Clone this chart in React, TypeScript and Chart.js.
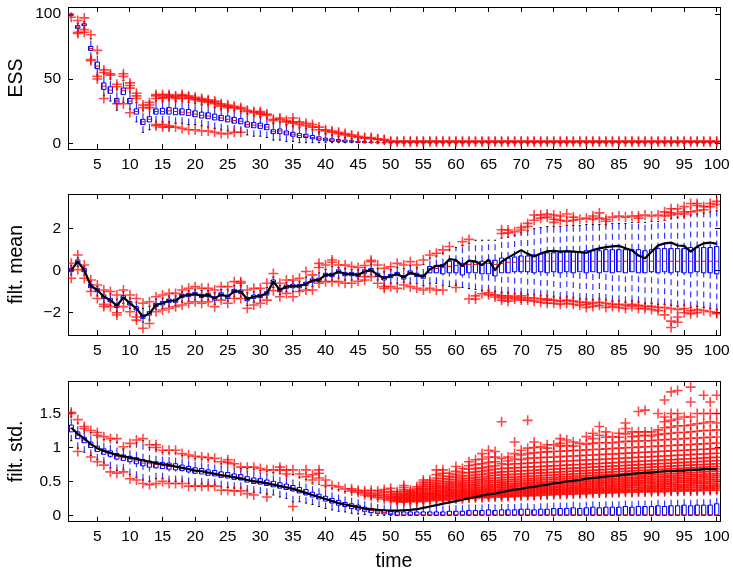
import { useEffect, useRef } from 'react';
import { Chart, registerables } from 'chart.js';

Chart.register(...registerables);

// time steps 1..100
const TIME: number[] = Array.from({ length: 100 }, (_, i) => i + 1);
const TIME_TICKS = [5, 10, 15, 20, 25, 30, 35, 40, 45, 50, 55, 60, 65, 70, 75, 80, 85, 90, 95, 100];
const TIME_TICK_LABELS = TIME_TICKS.map(String);

// ---------- ESS ----------
const ESS_TICKS = [0, 50, 100];
const ESS_TICK_LABELS = ['0', '50', '100'];
const ESS_Q1 = [
  99, 89, 91, 72, 58, 42, 39, 31, 38, 31,
  23, 15, 17, 23, 23, 23, 22.5, 22.5, 22, 21,
  20, 19.5, 18.5, 18, 17, 16, 15.5, 13, 12.5, 12,
  11, 8, 8, 7, 6, 5, 5, 4, 3, 2.5,
  2, 2, 1.5, 1.5, 1.2, 1, 1, 1, 1, 1,
  1, 1, 1, 1, 1, 1, 1, 1, 1, 1,
  1, 1, 1, 1, 1, 1, 1, 1, 1, 1,
  1, 1, 1, 1, 1, 1, 1, 1, 1, 1,
  1, 1, 1, 1, 1, 1, 1, 1, 1, 1,
  1, 1, 1, 1, 1, 1, 1, 1, 1, 1,
];
const ESS_MED = [
  99.5, 90, 91.5, 73.5, 60, 44.5, 41.5, 33, 41, 33,
  25, 17, 19, 25, 25, 25.5, 25, 24.5, 24, 23,
  22, 21.5, 20.5, 20, 19, 18, 17.5, 15, 14.5, 14,
  13, 9.5, 10, 8.5, 7.5, 6.5, 6, 5, 4, 3.5,
  3, 2.5, 2, 2, 1.5, 1.3, 1.2, 1.1, 1, 1,
  1, 1, 1, 1, 1, 1, 1, 1, 1, 1,
  1, 1, 1, 1, 1, 1, 1, 1, 1, 1,
  1, 1, 1, 1, 1, 1, 1, 1, 1, 1,
  1, 1, 1, 1, 1, 1, 1, 1, 1, 1,
  1, 1, 1, 1, 1, 1, 1, 1, 1, 1,
];
const ESS_Q3 = [
  100, 91, 92.5, 75, 63, 47, 44, 35, 43, 35,
  27, 19, 21, 27, 27.5, 28, 27.5, 27, 26.5, 25.5,
  24.5, 24, 23, 22, 21.5, 20.5, 19.5, 17, 16.5, 16,
  15, 11, 11.5, 10, 9, 8, 7.5, 6.5, 5.5, 4.5,
  4, 3.5, 3, 2.5, 2, 1.8, 1.5, 1.3, 1.2, 1,
  1, 1, 1, 1, 1, 1, 1, 1, 1, 1,
  1, 1, 1, 1, 1, 1, 1, 1, 1, 1,
  1, 1, 1, 1, 1, 1, 1, 1, 1, 1,
  1, 1, 1, 1, 1, 1, 1, 1, 1, 1,
  1, 1, 1, 1, 1, 1, 1, 1, 1, 1,
];
const ESS_LO = [
  98.5, 87, 89, 66, 53, 37, 33, 26, 32, 27,
  17, 9, 11, 17, 17, 17, 16, 16, 15, 15,
  14, 13, 12, 11, 10, 10, 9, 7, 6, 6,
  5, 3, 3, 2, 2, 1, 1, 1, 1, 1,
  1, 1, 1, 1, 1, 1, 1, 1, 1, 1,
  1, 1, 1, 1, 1, 1, 1, 1, 1, 1,
  1, 1, 1, 1, 1, 1, 1, 1, 1, 1,
  1, 1, 1, 1, 1, 1, 1, 1, 1, 1,
  1, 1, 1, 1, 1, 1, 1, 1, 1, 1,
  1, 1, 1, 1, 1, 1, 1, 1, 1, 1,
];
const ESS_HI = [
  100, 93, 94, 81, 70, 54, 50, 42, 49, 40,
  32, 26, 27, 33, 33, 34, 33, 33, 32, 31,
  30, 30, 28, 27, 27, 26, 25, 23, 22, 21,
  20, 16, 17, 15, 14, 13, 12, 11, 9, 8,
  7, 6, 5, 4, 3.5, 3, 2.5, 2, 1.8, 1,
  1, 1, 1, 1, 1, 1, 1, 1, 1, 1,
  1, 1, 1, 1, 1, 1, 1, 1, 1, 1,
  1, 1, 1, 1, 1, 1, 1, 1, 1, 1,
  1, 1, 1, 1, 1, 1, 1, 1, 1, 1,
  1, 1, 1, 1, 1, 1, 1, 1, 1, 1,
];
const ESS_OUT: number[][] = [
  [97.5], [85, 86, 95], [86, 88, 97], [64, 65, 84], [50, 52, 72],
  [35, 55, 57], [53, 54], [31, 44, 46], [31, 52, 54], [24, 43, 45, 47],
  [35, 37, 39], [28, 30], [28, 30, 32], [14, 15, 35, 37, 38], [13, 15, 35, 36, 38],
  [13, 14, 36, 37, 38], [13, 35, 36, 37], [12, 35, 37, 38], [11, 35, 36, 37], [11, 34, 35, 36],
  [10, 33, 34, 35], [10, 32, 33, 34], [9, 31, 32, 33], [8, 29, 30, 31], [8, 28, 29, 30],
  [9, 28, 29], [9, 27, 28], [25, 26], [24, 25], [23, 24, 25],
  [22, 23], [18, 19], [19, 20], [17, 18], [16, 17, 20],
  [15, 17], [14, 16], [13, 15], [11, 13], [10, 11],
  [9, 10], [8, 9], [7, 8], [6, 7], [5, 6],
  [4.5, 5], [4, 5], [3.5, 4], [3, 3.5], [1.7, 2.2],
  [1.7, 2.2], [1.7, 2.2], [1.7, 2.2], [1.7, 2.2], [1.7, 2.2],
  [1.7, 2.2], [1.7, 2.2], [1.7, 2.2], [1.7, 2.2], [1.7, 2.2],
  [1.7, 2.2], [1.7, 2.2], [1.7, 2.2], [1.7, 2.2], [1.7, 2.2],
  [1.7, 2.2], [1.7, 2.2], [1.7, 2.2], [1.7, 2.2], [1.7, 2.2],
  [1.7, 2.2], [1.7, 2.2], [1.7, 2.2], [1.7, 2.2], [1.7, 2.2],
  [1.7, 2.2], [1.7, 2.2], [1.7, 2.2], [1.7, 2.2], [1.7, 2.2],
  [1.7, 2.2], [1.7, 2.2], [1.7, 2.2], [1.7, 2.2], [1.7, 2.2],
  [1.7, 2.2], [1.7, 2.2], [1.7, 2.2], [1.7, 2.2], [1.7, 2.2],
  [1.7, 2.2], [1.7, 2.2], [1.7, 2.2], [1.7, 2.2], [1.7, 2.2],
  [1.7, 2.2], [1.7, 2.2], [1.7, 2.2], [1.7, 2.2], [1.7, 2.2],
];

// ---------- filtered mean ----------
const MEAN_TICKS = [-2, 0, 2];
const MEAN_TICK_LABELS = ['\u22122', '0', '2'];
const MEAN_TRUE = [
  0.03, 0.43, 0.03, -0.73, -0.92, -1.24, -1.40, -1.67, -1.27, -1.55,
  -1.79, -2.19, -2.03, -1.63, -1.55, -1.43, -1.43, -1.20, -1.16, -1.11,
  -1.20, -1.16, -1.32, -1.13, -1.24, -0.97, -1.00, -1.35, -1.24, -1.20,
  -1.08, -0.52, -0.92, -0.76, -0.73, -0.73, -0.63, -0.47, -0.44, -0.20,
  -0.20, -0.04, -0.16, -0.16, -0.20, -0.04, 0.03, -0.20, -0.36, -0.25,
  -0.16, -0.32, -0.09, -0.20, -0.28, 0.07, 0.23, 0.23, 0.55, 0.51,
  0.23, 0.48, 0.43, 0.27, 0.51, 0.03, 0.43, 0.62, 0.80, 0.98,
  0.80, 0.68, 0.82, 0.92, 0.94, 0.91, 0.93, 0.91, 0.88, 0.85,
  0.98, 1.06, 1.12, 1.16, 1.18, 1.07, 0.97, 0.72, 0.59, 0.90,
  1.20, 1.30, 1.34, 1.20, 1.18, 0.91, 1.15, 1.30, 1.34, 1.28,
];
const MEAN_Q1 = [
  -0.05, 0.35, -0.05, -0.81, -1.0, -1.32, -1.48, -1.75, -1.35, -1.63,
  -1.87, -2.27, -2.11, -1.71, -1.63, -1.51, -1.51, -1.28, -1.24, -1.19,
  -1.28, -1.24, -1.4, -1.21, -1.32, -1.05, -1.08, -1.43, -1.32, -1.28,
  -1.16, -0.6, -1.0, -0.84, -0.81, -0.81, -0.71, -0.55, -0.52, -0.28,
  -0.28, -0.12, -0.24, -0.24, -0.28, -0.12, -0.05, -0.28, -0.44, -0.33,
  -0.24, -0.4, -0.17, -0.28, -0.36, -0.1, -0.1, -0.15, -0.1, -0.1,
  -0.2, -0.1, -0.1, -0.15, -0.15, -0.25, -0.1, -0.1, -0.05, -0.05,
  -0.05, -0.1, -0.05, -0.1, -0.05, -0.1, -0.05, -0.1, -0.05, -0.1,
  -0.05, -0.1, -0.05, -0.1, -0.05, -0.1, -0.05, -0.1, -0.1, -0.05,
  -0.1, -0.05, -0.1, -0.05, -0.1, -0.1, -0.05, -0.1, -0.1, -0.15,
];
const MEAN_MED = [
  0.03, 0.43, 0.03, -0.73, -0.92, -1.24, -1.40, -1.67, -1.27, -1.55,
  -1.79, -2.19, -2.03, -1.63, -1.55, -1.43, -1.43, -1.20, -1.16, -1.11,
  -1.20, -1.16, -1.32, -1.13, -1.24, -0.97, -1.00, -1.35, -1.24, -1.20,
  -1.08, -0.52, -0.92, -0.76, -0.73, -0.73, -0.63, -0.47, -0.44, -0.20,
  -0.20, -0.04, -0.16, -0.16, -0.20, -0.04, 0.03, -0.20, -0.36, -0.25,
  -0.16, -0.32, -0.09, -0.20, -0.28, 0.05, 0.1, 0.15, 0.2, 0.25,
  0.2, 0.3, 0.3, 0.3, 0.35, 0.3, 0.35, 0.4, 0.4, 0.45,
  0.45, 0.45, 0.45, 0.45, 0.45, 0.45, 0.45, 0.45, 0.45, 0.45,
  0.45, 0.45, 0.45, 0.45, 0.45, 0.45, 0.45, 0.45, 0.45, 0.45,
  0.45, 0.45, 0.45, 0.45, 0.45, 0.45, 0.45, 0.45, 0.45, 0.45,
];
const MEAN_Q3 = [
  0.11, 0.51, 0.11, -0.65, -0.84, -1.16, -1.32, -1.59, -1.19, -1.47,
  -1.71, -2.11, -1.95, -1.55, -1.47, -1.35, -1.35, -1.12, -1.08, -1.03,
  -1.12, -1.08, -1.24, -1.05, -1.16, -0.89, -0.92, -1.27, -1.16, -1.12,
  -1.0, -0.44, -0.84, -0.68, -0.65, -0.65, -0.55, -0.39, -0.36, -0.12,
  -0.12, 0.04, -0.08, -0.08, -0.12, 0.04, 0.11, -0.12, -0.28, -0.17,
  -0.08, -0.24, -0.01, -0.12, -0.2, 0.2, 0.25, 0.3, 0.45, 0.45,
  0.35, 0.45, 0.45, 0.45, 0.5, 0.5, 0.6, 0.6, 0.65, 0.7,
  0.7, 0.75, 0.8, 0.85, 0.85, 0.85, 0.9, 0.9, 0.9, 0.95,
  0.95, 0.95, 1.0, 1.0, 1.0, 1.0, 1.0, 1.0, 0.95, 1.0,
  1.05, 1.05, 1.05, 1.05, 1.05, 1.1, 1.1, 1.1, 1.1, 1.15,
];
const MEAN_LO = [
  -0.2, 0.2, -0.2, -0.95, -1.2, -1.5, -1.65, -1.95, -1.55, -1.8,
  -2.1, -2.45, -2.35, -1.85, -1.8, -1.7, -1.65, -1.5, -1.45, -1.4,
  -1.45, -1.4, -1.6, -1.35, -1.45, -1.25, -1.25, -1.65, -1.5, -1.45,
  -1.3, -0.8, -1.15, -1.0, -1.0, -0.95, -0.85, -0.75, -0.55, -0.45,
  -0.45, -0.35, -0.45, -0.45, -0.4, -0.2, -0.2, -0.45, -0.7, -0.6,
  -0.6, -0.55, -0.6, -0.6, -0.7, -0.6, -0.6, -0.7, -0.75, -0.7,
  -0.8, -0.85, -0.9, -0.95, -0.95, -1.0, -1.05, -1.05, -1.1, -1.1,
  -1.15, -1.15, -1.2, -1.2, -1.25, -1.3, -1.25, -1.3, -1.35, -1.35,
  -1.4, -1.35, -1.4, -1.45, -1.45, -1.5, -1.45, -1.5, -1.55, -1.55,
  -1.6, -1.6, -1.65, -1.7, -1.65, -1.75, -1.7, -1.75, -1.8, -1.85,
];
const MEAN_HI = [
  0.25, 0.62, 0.2, -0.5, -0.75, -1.0, -1.1, -1.35, -1.0, -1.3,
  -1.5, -1.8, -1.7, -1.35, -1.3, -1.2, -1.2, -1.0, -0.95, -0.9,
  -0.95, -0.95, -1.05, -0.9, -0.9, -0.7, -0.7, -1.05, -1.0, -0.95,
  -0.8, -0.3, -0.7, -0.55, -0.5, -0.5, -0.3, -0.3, -0.1, 0.05,
  0.2, 0.15, 0.1, 0.05, 0.05, 0.15, 0.3, 0.1, -0.05, 0.05,
  0.15, 0.1, 0.25, 0.15, 0.3, 0.6, 0.7, 0.85, 1.0, 1.1,
  1.2, 1.3, 1.45, 1.45, 1.45, 1.45, 1.55, 1.6, 1.7, 1.8,
  1.9, 2.0, 2.05, 2.1, 2.1, 2.1, 2.15, 2.15, 2.15, 2.2,
  2.2, 2.2, 2.2, 2.25, 2.25, 2.25, 2.3, 2.3, 2.3, 2.35,
  2.35, 2.4, 2.5, 2.55, 2.6, 2.65, 2.7, 2.75, 2.8, 2.85,
];
const MEAN_OUT: number[][] = [
  [0.35, -0.36], [0.75, 0.05], [0.27, -0.36], [-0.44, -0.99], [-0.68, -1.32],
  [-0.92, -1.6, -1.7], [-0.99, -1.71], [-1.16, -2.0, -2.11], [-0.92, -1.71], [-1.16, -1.95],
  [-1.32, -2.2, -2.35], [-1.55, -2.74], [-1.48, -2.51], [-1.24, -1.95], [-1.16, -1.87],
  [-1.08, -1.79], [-1.08, -1.71], [-0.92, -1.63], [-0.84, -1.55], [-0.76, -1.48],
  [-0.84, -1.55], [-0.84, -1.48], [-0.92, -1.71], [-0.76, -1.4], [-0.76, -1.55],
  [-0.52, -1.32], [-0.52, -0.6, -1.32], [-0.92, -1.79], [-0.84, -1.63], [-0.84, -1.55],
  [-0.6, -1.4], [-0.13, -0.95], [-0.6, -1.24], [-0.44, -1.08], [-0.44, -1.24],
  [-0.36, -0.99], [-0.04, -0.92], [-0.2, -0.92], [0.35, 0.15, -0.6], [0.27, -0.52],
  [0.51, 0.4, -0.52], [0.27, -0.52], [0.27, -0.6], [0.2, -0.6], [0.15, -0.5],
  [0.25, -0.28, -0.44], [0.43, 0.5, -0.28], [0.27, -0.6], [0.11, -0.75, -0.84], [0.19, -0.76],
  [0.35, -0.84], [0.27, -0.68], [0.43, -0.76], [0.27, -0.84], [0.51, -0.92],
  [0.75, -0.84], [0.83, -0.92], [0.99, -0.92], [1.15], [-0.8],
  [1.38], [1.49, -1.35], [-1.2, -1.35], [-1.1], [-1.05, -1.15],
  [-1.15, -1.25], [1.77, 1.95, -1.2, -1.3, -1.4], [1.8, 1.94, -1.2, -1.3, -1.45], [1.85, -1.25, -1.35], [1.94, 2.05, -1.2, -1.3, -1.4],
  [2.1, 2.25, -1.3, -1.4], [2.4, 2.65, -1.3, -1.45], [2.5, 2.65, -1.35, -1.5], [2.55, 2.7, -1.35, -1.4, -1.55], [2.3, 2.45, 2.65, -1.4, -1.55],
  [2.4, 2.6, -1.45, -1.6], [2.35, 2.7, -1.4, -1.55], [2.4, 2.55, -1.45, -1.6], [2.45, -1.5, -1.65], [2.5, -1.5, -1.6, -1.75],
  [2.45, 2.6, -1.55, -1.7], [2.5, 2.75, -1.5, -1.65], [2.35, 2.45, -1.55, -1.75], [2.55, -1.6, -1.7], [2.6, -1.6, -1.75],
  [2.55, -1.65, -1.8], [2.6, -1.6, -1.7], [2.5, 2.6, -1.65, -1.8], [2.65, -1.7, -1.8], [2.6, -1.7, -1.85],
  [2.65, -1.75, -1.9], [2.6, 2.8, -1.75, -2.1], [2.65, 2.75, 2.95, -1.8, -2.4, -2.7], [2.7, 2.95, -1.85, -2.2, -2.45], [2.7, 2.8, 3.05, -1.8, -2.0],
  [2.8, 3.2, -1.9, -2.05], [2.85, 3.1, 3.2, -1.85, -2.0], [2.9, 3.05, -1.9], [3.05, 3.2, -1.95], [3.15, 3.3, -2.0, -2.05],
];

// ---------- filtered std ----------
const STD_TICKS = [0, 0.5, 1, 1.5];
const STD_TICK_LABELS = ['0', '0.5', '1', '1.5'];
const STD_TRUE = [
  1.29, 1.20, 1.13, 1.05, 0.99, 0.95, 0.92, 0.89, 0.87, 0.85,
  0.83, 0.81, 0.79, 0.77, 0.75, 0.74, 0.72, 0.70, 0.68, 0.66,
  0.65, 0.63, 0.61, 0.59, 0.58, 0.56, 0.54, 0.52, 0.50, 0.49,
  0.47, 0.45, 0.43, 0.41, 0.39, 0.36, 0.33, 0.30, 0.27, 0.24,
  0.21, 0.18, 0.16, 0.14, 0.12, 0.10, 0.09, 0.08, 0.075, 0.07,
  0.07, 0.075, 0.08, 0.09, 0.11, 0.13, 0.15, 0.17, 0.19, 0.21,
  0.23, 0.25, 0.27, 0.29, 0.31, 0.32, 0.34, 0.36, 0.38, 0.39,
  0.41, 0.42, 0.44, 0.45, 0.47, 0.48, 0.50, 0.51, 0.52, 0.54,
  0.55, 0.56, 0.57, 0.58, 0.59, 0.60, 0.61, 0.62, 0.63, 0.63,
  0.64, 0.65, 0.65, 0.66, 0.66, 0.67, 0.67, 0.68, 0.68, 0.68,
];
const STD_Q1 = [
  1.23, 1.13, 1.07, 1.0, 0.94, 0.9, 0.87, 0.83, 0.81, 0.79,
  0.76, 0.73, 0.71, 0.7, 0.69, 0.68, 0.67, 0.66, 0.64, 0.62,
  0.61, 0.59, 0.58, 0.56, 0.55, 0.53, 0.52, 0.49, 0.47, 0.46,
  0.44, 0.42, 0.4, 0.38, 0.36, 0.33, 0.3, 0.27, 0.24, 0.21,
  0.18, 0.15, 0.13, 0.1, 0.08, 0.06, 0.04, 0.03, 0.02, 0.01,
  0, 0, 0, 0, 0, 0, 0, 0, 0, 0,
  0, 0, 0, 0, 0, 0, 0, 0, 0, 0,
  0, 0, 0, 0, 0, 0, 0, 0, 0, 0,
  0, 0, 0, 0, 0, 0, 0, 0, 0, 0,
  0, 0, 0, 0, 0, 0, 0, 0, 0, 0,
];
const STD_MED = [
  1.28, 1.18, 1.11, 1.04, 0.98, 0.94, 0.91, 0.87, 0.85, 0.83,
  0.8, 0.77, 0.76, 0.75, 0.73, 0.72, 0.71, 0.7, 0.68, 0.66,
  0.65, 0.63, 0.62, 0.6, 0.59, 0.57, 0.56, 0.53, 0.51, 0.5,
  0.48, 0.46, 0.44, 0.42, 0.4, 0.37, 0.34, 0.3, 0.27, 0.24,
  0.21, 0.18, 0.16, 0.13, 0.11, 0.09, 0.07, 0.05, 0.04, 0.03,
  0.005, 0.005, 0.005, 0.005, 0.005, 0.005, 0.005, 0.005, 0.005, 0.005,
  0.005, 0.005, 0.005, 0.005, 0.005, 0.005, 0.005, 0.005, 0.005, 0.005,
  0.005, 0.005, 0.005, 0.005, 0.005, 0.005, 0.005, 0.005, 0.005, 0.005,
  0.005, 0.005, 0.005, 0.005, 0.005, 0.005, 0.005, 0.005, 0.005, 0.005,
  0.005, 0.005, 0.005, 0.005, 0.005, 0.005, 0.005, 0.005, 0.005, 0.005,
];
const STD_Q3 = [
  1.33, 1.23, 1.15, 1.08, 1.02, 0.98, 0.95, 0.91, 0.89, 0.87,
  0.85, 0.82, 0.8, 0.79, 0.78, 0.77, 0.76, 0.74, 0.72, 0.7,
  0.69, 0.67, 0.66, 0.64, 0.63, 0.61, 0.6, 0.57, 0.55, 0.54,
  0.52, 0.5, 0.48, 0.46, 0.44, 0.41, 0.38, 0.34, 0.31, 0.28,
  0.25, 0.22, 0.19, 0.17, 0.15, 0.12, 0.1, 0.08, 0.07, 0.06,
  0.05, 0.05, 0.05, 0.05, 0.05, 0.05, 0.05, 0.05, 0.06, 0.06,
  0.06, 0.07, 0.07, 0.07, 0.08, 0.07, 0.08, 0.08, 0.08, 0.09,
  0.09, 0.08, 0.09, 0.09, 0.1, 0.1, 0.1, 0.11, 0.1, 0.11,
  0.12, 0.11, 0.12, 0.12, 0.12, 0.13, 0.12, 0.13, 0.13, 0.13,
  0.14, 0.13, 0.14, 0.14, 0.15, 0.14, 0.15, 0.15, 0.15, 0.17,
];
const STD_LO = [
  1.1, 0.99, 0.93, 0.88, 0.82, 0.77, 0.7, 0.66, 0.67, 0.6,
  0.56, 0.52, 0.5, 0.54, 0.54, 0.5, 0.5, 0.5, 0.47, 0.46,
  0.46, 0.45, 0.45, 0.42, 0.41, 0.4, 0.4, 0.36, 0.34, 0.33,
  0.31, 0.3, 0.27, 0.25, 0.2, 0.2, 0.18, 0.16, 0.13, 0.1,
  0.08, 0.06, 0.05, 0.03, 0.02, 0.01, 0, 0, 0, 0,
  0, 0, 0, 0, 0, 0, 0, 0, 0, 0,
  0, 0, 0, 0, 0, 0, 0, 0, 0, 0,
  0, 0, 0, 0, 0, 0, 0, 0, 0, 0,
  0, 0, 0, 0, 0, 0, 0, 0, 0, 0,
  0, 0, 0, 0, 0, 0, 0, 0, 0, 0,
];
const STD_HI = [
  1.45, 1.36, 1.26, 1.22, 1.15, 1.12, 1.1, 1.08, 0.98, 1.02,
  1.07, 1.1, 1.0, 0.97, 0.93, 0.92, 0.92, 0.88, 0.86, 0.84,
  0.83, 0.82, 0.8, 0.76, 0.76, 0.74, 0.69, 0.69, 0.68, 0.66,
  0.65, 0.63, 0.62, 0.58, 0.6, 0.56, 0.53, 0.48, 0.46, 0.42,
  0.4, 0.38, 0.35, 0.34, 0.32, 0.28, 0.26, 0.24, 0.22, 0.2,
  0.18, 0.18, 0.18, 0.18, 0.18, 0.2, 0.2, 0.2, 0.22, 0.22,
  0.23, 0.23, 0.23, 0.25, 0.25, 0.25, 0.25, 0.27, 0.27, 0.27,
  0.28, 0.28, 0.28, 0.29, 0.29, 0.29, 0.29, 0.31, 0.31, 0.31,
  0.31, 0.31, 0.33, 0.33, 0.33, 0.33, 0.33, 0.33, 0.33, 0.33,
  0.33, 0.33, 0.33, 0.33, 0.33, 0.33, 0.33, 0.33, 0.33, 0.33,
];
const STD_OUT: number[][] = [
  [1.5, 1.52], [1.41, 0.94], [1.28, 1.31], [1.25, 0.86], [1.22, 1.18, 0.79],
  [1.16, 0.74], [1.13, 0.64], [1.13, 0.62], [1.01, 0.64], [1.06, 0.54],
  [1.11, 0.52], [1.13, 0.47], [1.04, 0.45], [1.04, 1.0, 0.47], [0.96, 0.5],
  [0.96, 0.47], [0.96, 0.47], [0.91, 0.47], [0.89, 0.43], [0.87, 0.43],
  [0.86, 0.43], [0.85, 0.43], [0.84, 0.43], [0.79, 0.37], [0.78, 0.82, 0.37],
  [0.76, 0.36], [0.71, 0.36], [0.71, 0.32], [0.71, 0.3], [0.69],
  [0.67, 0.27], [0.67], [0.67, 0.71], [0.61, 0.67], [0.67, 0.13],
  [0.61], [0.57, 0.67], [0.52, 0.6], [0.55, 0.62, 0.67], [0.44, 0.52],
  [0.44], [0.42], [0.39], [0.36, 0.39], [0.34, 0.37],
  [0.3, 0.33, 0.36], [0.28, 0.3, 0.33, 0.37], [0.26, 0.29, 0.32, 0.36], [0.24, 0.27, 0.3, 0.34, 0.38], [0.22, 0.25, 0.28, 0.31, 0.35, 0.4],
  [0.2, 0.215, 0.23, 0.25, 0.265, 0.28, 0.3, 0.32, 0.35],
  [0.195, 0.21, 0.23, 0.245, 0.26, 0.28, 0.295, 0.31, 0.33, 0.355, 0.38, 0.41, 0.44],
  [0.205, 0.22, 0.235, 0.255, 0.27, 0.29, 0.305, 0.325, 0.345, 0.37],
  [0.2, 0.215, 0.235, 0.25, 0.27, 0.285, 0.3, 0.32, 0.34, 0.365, 0.39, 0.42],
  [0.205, 0.22, 0.24, 0.255, 0.275, 0.29, 0.31, 0.33, 0.35, 0.375, 0.4, 0.43, 0.46, 0.49, 0.52],
  [0.215, 0.235, 0.25, 0.27, 0.285, 0.305, 0.32, 0.34, 0.365, 0.39, 0.42, 0.45, 0.485, 0.52],
  [0.225, 0.24, 0.26, 0.275, 0.29, 0.31, 0.33, 0.35, 0.37, 0.395, 0.42, 0.445, 0.475, 0.51, 0.55, 0.6, 0.67],
  [0.22, 0.235, 0.255, 0.27, 0.29, 0.305, 0.325, 0.345, 0.365, 0.39, 0.415, 0.44, 0.47, 0.5, 0.54, 0.58, 0.62, 0.67],
  [0.235, 0.25, 0.27, 0.285, 0.3, 0.32, 0.34, 0.36, 0.38, 0.405, 0.43, 0.46, 0.49, 0.53, 0.57, 0.62],
  [0.24, 0.255, 0.275, 0.29, 0.31, 0.325, 0.345, 0.365, 0.385, 0.41, 0.435, 0.46, 0.49, 0.52, 0.56, 0.6, 0.65, 0.72],
  [0.245, 0.26, 0.28, 0.295, 0.315, 0.33, 0.35, 0.37, 0.395, 0.42, 0.445, 0.475, 0.505, 0.54, 0.58, 0.63, 0.69],
  [0.25, 0.265, 0.28, 0.3, 0.315, 0.335, 0.355, 0.375, 0.4, 0.425, 0.45, 0.48, 0.51, 0.545, 0.585, 0.63, 0.68, 0.73, 0.79],
  [0.255, 0.27, 0.29, 0.305, 0.325, 0.34, 0.36, 0.385, 0.41, 0.435, 0.46, 0.49, 0.52, 0.555, 0.595, 0.64, 0.69, 0.75, 0.82],
  [0.26, 0.275, 0.295, 0.31, 0.33, 0.35, 0.37, 0.39, 0.415, 0.44, 0.47, 0.5, 0.53, 0.565, 0.605, 0.65, 0.7, 0.76, 0.83, 0.91],
  [0.265, 0.28, 0.3, 0.315, 0.335, 0.355, 0.375, 0.4, 0.425, 0.45, 0.48, 0.51, 0.545, 0.58, 0.62, 0.665, 0.715, 0.78, 0.86, 0.96],
  [0.27, 0.285, 0.3, 0.32, 0.34, 0.36, 0.38, 0.405, 0.43, 0.455, 0.485, 0.515, 0.55, 0.59, 0.63, 0.68, 0.73, 0.79, 0.86, 0.94],
  [0.27, 0.29, 0.305, 0.325, 0.345, 0.365, 0.385, 0.41, 0.435, 0.46, 0.49, 0.52, 0.555, 0.595, 0.64, 0.69, 0.76, 0.84, 1.38],
  [0.275, 0.29, 0.31, 0.33, 0.35, 0.37, 0.39, 0.415, 0.44, 0.465, 0.495, 0.525, 0.56, 0.6, 0.645, 0.695, 0.75, 0.8, 0.86],
  [0.28, 0.295, 0.315, 0.335, 0.355, 0.375, 0.395, 0.42, 0.445, 0.47, 0.5, 0.53, 0.565, 0.605, 0.65, 0.7, 0.76, 0.83, 0.91, 1.08],
  [0.285, 0.3, 0.32, 0.34, 0.36, 0.38, 0.4, 0.425, 0.45, 0.475, 0.505, 0.535, 0.57, 0.61, 0.655, 0.705, 0.76, 0.82, 0.89, 0.96],
  [0.29, 0.305, 0.325, 0.345, 0.365, 0.385, 0.405, 0.43, 0.455, 0.48, 0.51, 0.54, 0.575, 0.615, 0.66, 0.71, 0.77, 0.84, 0.91, 0.99, 1.4],
  [0.29, 0.31, 0.33, 0.35, 0.37, 0.39, 0.41, 0.435, 0.46, 0.485, 0.515, 0.545, 0.58, 0.62, 0.665, 0.715, 0.775, 0.845, 0.92, 1.0, 1.08],
  [0.295, 0.315, 0.335, 0.355, 0.375, 0.395, 0.415, 0.44, 0.465, 0.49, 0.52, 0.55, 0.585, 0.625, 0.67, 0.72, 0.78, 0.85, 0.93, 1.01],
  [0.3, 0.32, 0.34, 0.36, 0.38, 0.4, 0.42, 0.445, 0.47, 0.495, 0.525, 0.555, 0.59, 0.63, 0.675, 0.725, 0.785, 0.855, 0.935, 0.99, 1.04],
  [0.305, 0.325, 0.345, 0.365, 0.385, 0.405, 0.425, 0.45, 0.475, 0.5, 0.53, 0.56, 0.595, 0.635, 0.68, 0.73, 0.79, 0.86, 0.94, 1.04],
  [0.31, 0.325, 0.345, 0.365, 0.385, 0.41, 0.43, 0.455, 0.48, 0.505, 0.535, 0.565, 0.6, 0.64, 0.685, 0.735, 0.795, 0.865, 0.945, 1.02, 1.06, 1.13],
  [0.31, 0.33, 0.35, 0.37, 0.39, 0.41, 0.435, 0.46, 0.485, 0.51, 0.54, 0.57, 0.605, 0.645, 0.69, 0.74, 0.8, 0.87, 0.95, 1.03, 1.11],
  [0.315, 0.335, 0.355, 0.375, 0.395, 0.415, 0.44, 0.465, 0.49, 0.515, 0.545, 0.575, 0.61, 0.65, 0.695, 0.745, 0.805, 0.875, 0.955, 1.02, 1.08],
  [0.32, 0.34, 0.36, 0.38, 0.4, 0.42, 0.445, 0.47, 0.495, 0.52, 0.55, 0.58, 0.615, 0.655, 0.7, 0.75, 0.81, 0.88, 0.96, 1.06],
  [0.32, 0.34, 0.36, 0.38, 0.4, 0.425, 0.45, 0.475, 0.5, 0.525, 0.555, 0.585, 0.62, 0.66, 0.705, 0.755, 0.815, 0.885, 0.965, 1.05, 1.16],
  [0.325, 0.345, 0.365, 0.385, 0.405, 0.43, 0.455, 0.48, 0.505, 0.53, 0.56, 0.59, 0.625, 0.665, 0.71, 0.76, 0.82, 0.89, 0.97, 1.06, 1.13, 1.21],
  [0.33, 0.35, 0.37, 0.39, 0.41, 0.435, 0.46, 0.485, 0.51, 0.535, 0.565, 0.595, 0.63, 0.67, 0.715, 0.765, 0.825, 0.895, 0.975, 1.07, 1.18, 1.31],
  [0.33, 0.35, 0.37, 0.39, 0.415, 0.44, 0.465, 0.49, 0.515, 0.54, 0.57, 0.6, 0.635, 0.675, 0.72, 0.77, 0.83, 0.9, 0.98, 1.07, 1.15, 1.23],
  [0.335, 0.355, 0.375, 0.395, 0.42, 0.445, 0.47, 0.495, 0.52, 0.545, 0.575, 0.605, 0.64, 0.68, 0.725, 0.775, 0.835, 0.905, 0.985, 1.07, 1.16],
  [0.335, 0.355, 0.375, 0.4, 0.425, 0.45, 0.475, 0.5, 0.525, 0.55, 0.58, 0.61, 0.645, 0.685, 0.73, 0.78, 0.84, 0.91, 0.99, 1.08, 1.15, 1.21],
  [0.34, 0.36, 0.38, 0.405, 0.43, 0.455, 0.48, 0.505, 0.53, 0.555, 0.585, 0.615, 0.65, 0.69, 0.735, 0.785, 0.845, 0.915, 0.995, 1.09, 1.2, 1.28, 1.36],
  [0.34, 0.36, 0.385, 0.41, 0.435, 0.46, 0.485, 0.51, 0.535, 0.56, 0.59, 0.62, 0.655, 0.695, 0.74, 0.79, 0.85, 0.92, 1.0, 1.09, 1.16, 1.23],
  [0.345, 0.365, 0.385, 0.41, 0.435, 0.46, 0.485, 0.51, 0.54, 0.565, 0.595, 0.625, 0.66, 0.7, 0.745, 0.795, 0.855, 0.925, 1.005, 1.095, 1.17, 1.23, 1.53],
  [0.345, 0.365, 0.39, 0.415, 0.44, 0.465, 0.49, 0.515, 0.545, 0.57, 0.6, 0.63, 0.665, 0.705, 0.75, 0.8, 0.86, 0.93, 1.01, 1.1, 1.18, 1.23, 1.55],
  [0.35, 0.37, 0.39, 0.415, 0.44, 0.465, 0.49, 0.52, 0.545, 0.575, 0.605, 0.635, 0.67, 0.71, 0.755, 0.805, 0.865, 0.935, 1.015, 1.1, 1.17, 1.23],
  [0.35, 0.37, 0.395, 0.42, 0.445, 0.47, 0.495, 0.52, 0.55, 0.575, 0.605, 0.64, 0.675, 0.715, 0.76, 0.81, 0.87, 0.94, 1.02, 1.11, 1.19, 1.26, 1.5],
  [0.35, 0.375, 0.4, 0.425, 0.45, 0.475, 0.5, 0.525, 0.555, 0.58, 0.61, 0.645, 0.68, 0.72, 0.765, 0.815, 0.875, 0.945, 1.025, 1.115, 1.2, 1.29, 1.38, 1.45, 1.7],
  [0.355, 0.375, 0.4, 0.425, 0.45, 0.475, 0.505, 0.53, 0.56, 0.585, 0.615, 0.65, 0.685, 0.725, 0.77, 0.82, 0.88, 0.95, 1.03, 1.12, 1.21, 1.3, 1.4, 1.5, 1.82],
  [0.355, 0.38, 0.405, 0.43, 0.455, 0.48, 0.505, 0.535, 0.56, 0.59, 0.62, 0.655, 0.69, 0.73, 0.775, 0.825, 0.885, 0.955, 1.035, 1.125, 1.22, 1.32, 1.42, 1.5, 1.84],
  [0.36, 0.38, 0.405, 0.43, 0.455, 0.485, 0.51, 0.54, 0.565, 0.595, 0.625, 0.66, 0.695, 0.735, 0.78, 0.83, 0.89, 0.96, 1.04, 1.13, 1.22, 1.32, 1.45],
  [0.36, 0.385, 0.41, 0.435, 0.46, 0.485, 0.515, 0.54, 0.57, 0.6, 0.63, 0.665, 0.7, 0.74, 0.785, 0.835, 0.895, 0.965, 1.045, 1.135, 1.23, 1.33, 1.45, 1.67, 1.89],
  [0.36, 0.385, 0.41, 0.435, 0.465, 0.49, 0.515, 0.545, 0.575, 0.6, 0.635, 0.67, 0.705, 0.745, 0.79, 0.84, 0.9, 0.97, 1.05, 1.14, 1.24, 1.35, 1.5],
  [0.365, 0.39, 0.415, 0.44, 0.465, 0.49, 0.52, 0.55, 0.575, 0.605, 0.64, 0.675, 0.71, 0.75, 0.795, 0.845, 0.905, 0.975, 1.055, 1.145, 1.25, 1.36, 1.5, 1.77],
  [0.365, 0.39, 0.415, 0.44, 0.47, 0.495, 0.525, 0.55, 0.58, 0.61, 0.645, 0.68, 0.715, 0.755, 0.8, 0.85, 0.91, 0.98, 1.06, 1.15, 1.25, 1.38, 1.5, 1.67],
  [0.37, 0.395, 0.42, 0.445, 0.47, 0.5, 0.525, 0.555, 0.585, 0.615, 0.65, 0.685, 0.72, 0.76, 0.805, 0.855, 0.915, 0.985, 1.065, 1.155, 1.26, 1.36, 1.5, 1.77],
];

const FONT = '"Liberation Sans", Arial, Helvetica, sans-serif';
const TICK_FONT_SIZE = 15.5;
const TITLE_FONT_SIZE = 19.5;
const WIDTH = 733;
const PLOT_LEFT = 68;
const PLOT_RIGHT_GAP = 13;

interface BoxSeries {
  q1: number[];
  med: number[];
  q3: number[];
  lo: number[];
  hi: number[];
  out: number[][];
}

interface PanelSpec {
  top: number;
  height: number;
  padTop: number;
  axisHeight: number;
  yMin: number;
  yMax: number;
  yTicks: number[];
  yLabels: string[];
  yTitle: string;
  box: BoxSeries;
  truth?: number[];
  xTitle?: string;
}

type Pt = { x: number; y: number | null };

function segmentSet(data: Pt[], color: string, width: number, dash: number[] = []) {
  return {
    type: 'line' as const,
    data,
    xAxisID: 'x',
    yAxisID: 'y',
    borderColor: color,
    borderWidth: width,
    borderDash: dash,
    borderCapStyle: 'butt' as const,
    pointRadius: 0,
    spanGaps: false,
    tension: 0,
    fill: false,
  };
}

function buildConfig(p: PanelSpec): any {
  const HALF = 0.32;
  const CAP = 0.16;
  const b = p.box;
  const boxes: Pt[] = [];
  const medians: Pt[] = [];
  const whiskers: Pt[] = [];
  const caps: Pt[] = [];
  const outliers: Pt[] = [];
  TIME.forEach((t, i) => {
    boxes.push(
      { x: t - HALF, y: b.q1[i] }, { x: t + HALF, y: b.q1[i] },
      { x: t + HALF, y: b.q3[i] }, { x: t - HALF, y: b.q3[i] },
      { x: t - HALF, y: b.q1[i] }, { x: t, y: null },
    );
    medians.push({ x: t - HALF, y: b.med[i] }, { x: t + HALF, y: b.med[i] }, { x: t, y: null });
    whiskers.push(
      { x: t, y: b.q3[i] }, { x: t, y: b.hi[i] }, { x: t, y: null },
      { x: t, y: b.lo[i] }, { x: t, y: b.q1[i] }, { x: t, y: null },
    );
    caps.push(
      { x: t - CAP, y: b.hi[i] }, { x: t + CAP, y: b.hi[i] }, { x: t, y: null },
      { x: t - CAP, y: b.lo[i] }, { x: t + CAP, y: b.lo[i] }, { x: t, y: null },
    );
    b.out[i].forEach((v) => outliers.push({ x: t, y: v }));
  });

  const datasets: any[] = [];
  if (p.truth) {
    const truth = p.truth;
    datasets.push({
      ...segmentSet(TIME.map((t, i) => ({ x: t, y: truth[i] })), '#000', 2.2),
      borderJoinStyle: 'round',
    });
  }
  datasets.push({
    type: 'scatter',
    data: outliers,
    xAxisID: 'x',
    yAxisID: 'y',
    pointStyle: 'cross',
    pointRadius: 5,
    pointBorderWidth: 1.6,
    pointBorderColor: 'rgba(255,0,0,0.72)',
    pointBackgroundColor: 'rgba(255,0,0,0.72)',
    showLine: false,
  });
  datasets.push(segmentSet(medians, 'rgb(255,0,0)', 1));
  datasets.push(segmentSet(caps, '#000', 1));
  datasets.push(segmentSet(boxes, 'rgb(0,0,255)', 1));
  datasets.push(segmentSet(whiskers, 'rgba(0,0,255,0.8)', 1.2, [6, 4]));

  const tickFont = { family: FONT, size: TICK_FONT_SIZE };
  const grid = {
    drawOnChartArea: false,
    drawTicks: true,
    tickLength: -5,
    color: '#000',
    tickColor: '#000',
    lineWidth: 1,
    tickWidth: 1,
  };
  const border = { display: true, color: '#000', width: 1 };
  const setTimeTicks = (s: any) => {
    s.ticks = TIME_TICKS.map((v) => ({ value: v }));
  };
  const setYTicks = (s: any) => {
    s.ticks = p.yTicks.map((v) => ({ value: v }));
  };

  return {
    type: 'line',
    data: { datasets },
    options: {
      animation: false,
      responsive: false,
      devicePixelRatio: 1,
      events: [],
      layout: { autoPadding: false, padding: { top: p.padTop, right: PLOT_RIGHT_GAP, left: 0, bottom: 0 } },
      plugins: { legend: { display: false }, tooltip: { enabled: false }, title: { display: false } },
      scales: {
        x: {
          type: 'linear',
          position: 'bottom',
          min: 0.5,
          max: 100.5,
          afterBuildTicks: setTimeTicks,
          afterFit: (s: any) => {
            s.height = p.axisHeight;
            s.paddingLeft = 0;
            s.paddingRight = 0;
          },
          ticks: {
            autoSkip: false,
            maxRotation: 0,
            padding: 11,
            color: '#000',
            font: tickFont,
            callback: (_v: any, i: number) => TIME_TICK_LABELS[i],
          },
          grid,
          border,
          title: p.xTitle
            ? {
                display: true,
                text: p.xTitle,
                color: '#000',
                font: { family: FONT, size: TITLE_FONT_SIZE, lineHeight: 0.8 },
                padding: { top: 0, bottom: 0 },
              }
            : { display: false },
        },
        xTop: {
          type: 'linear',
          position: 'top',
          min: 0.5,
          max: 100.5,
          afterBuildTicks: setTimeTicks,
          afterFit: (s: any) => {
            s.height = 0;
            s.paddingLeft = 0;
            s.paddingRight = 0;
          },
          ticks: { display: false },
          grid,
          border,
        },
        y: {
          type: 'linear',
          position: 'left',
          min: p.yMin,
          max: p.yMax,
          afterBuildTicks: setYTicks,
          afterFit: (s: any) => {
            s.width = PLOT_LEFT;
            s.paddingTop = 0;
            s.paddingBottom = 0;
          },
          ticks: {
            padding: 12,
            color: '#000',
            font: tickFont,
            callback: (_v: any, i: number) => p.yLabels[i],
          },
          grid,
          border,
          title: {
            display: true,
            text: p.yTitle,
            color: '#000',
            font: { family: FONT, size: TITLE_FONT_SIZE, lineHeight: 1 },
            padding: { top: 7, bottom: 0 },
          },
        },
        yRight: {
          type: 'linear',
          position: 'right',
          min: p.yMin,
          max: p.yMax,
          afterBuildTicks: setYTicks,
          afterFit: (s: any) => {
            s.width = 0;
            s.paddingTop = 0;
            s.paddingBottom = 0;
          },
          ticks: { display: false },
          grid,
          border,
        },
      },
    },
  };
}

function Panel(props: PanelSpec) {
  const ref = useRef<HTMLCanvasElement | null>(null);
  useEffect(() => {
    if (!ref.current) return;
    const chart = new Chart(ref.current, buildConfig(props));
    return () => chart.destroy();
  }, []);
  return (
    <canvas
      ref={ref}
      width={WIDTH}
      height={props.height}
      style={{ position: 'absolute', left: 0, top: props.top, width: WIDTH, height: props.height }}
    />
  );
}

const PANELS: PanelSpec[] = [
  {
    top: 0, height: 180, padTop: 7, axisHeight: 31,
    yMin: -3.85, yMax: 105.4, yTicks: ESS_TICKS, yLabels: ESS_TICK_LABELS, yTitle: 'ESS',
    box: { q1: ESS_Q1, med: ESS_MED, q3: ESS_Q3, lo: ESS_LO, hi: ESS_HI, out: ESS_OUT },
  },
  {
    top: 180, height: 180, padTop: 14, axisHeight: 25,
    yMin: -3.06, yMax: 3.65, yTicks: MEAN_TICKS, yLabels: MEAN_TICK_LABELS, yTitle: 'filt. mean',
    box: { q1: MEAN_Q1, med: MEAN_MED, q3: MEAN_Q3, lo: MEAN_LO, hi: MEAN_HI, out: MEAN_OUT },
    truth: MEAN_TRUE,
  },
  {
    top: 360, height: 209, padTop: 21, axisHeight: 47.3,
    yMin: -0.094, yMax: 1.98, yTicks: STD_TICKS, yLabels: STD_TICK_LABELS, yTitle: 'filt. std.',
    box: { q1: STD_Q1, med: STD_MED, q3: STD_Q3, lo: STD_LO, hi: STD_HI, out: STD_OUT },
    truth: STD_TRUE,
    xTitle: 'time',
  },
];

export default function App() {
  return (
    <div style={{ position: 'fixed', left: 0, top: 0, width: WIDTH, height: 569, background: '#fff' }}>
      {PANELS.map((p) => (
        <Panel key={p.yTitle} {...p} />
      ))}
    </div>
  );
}
